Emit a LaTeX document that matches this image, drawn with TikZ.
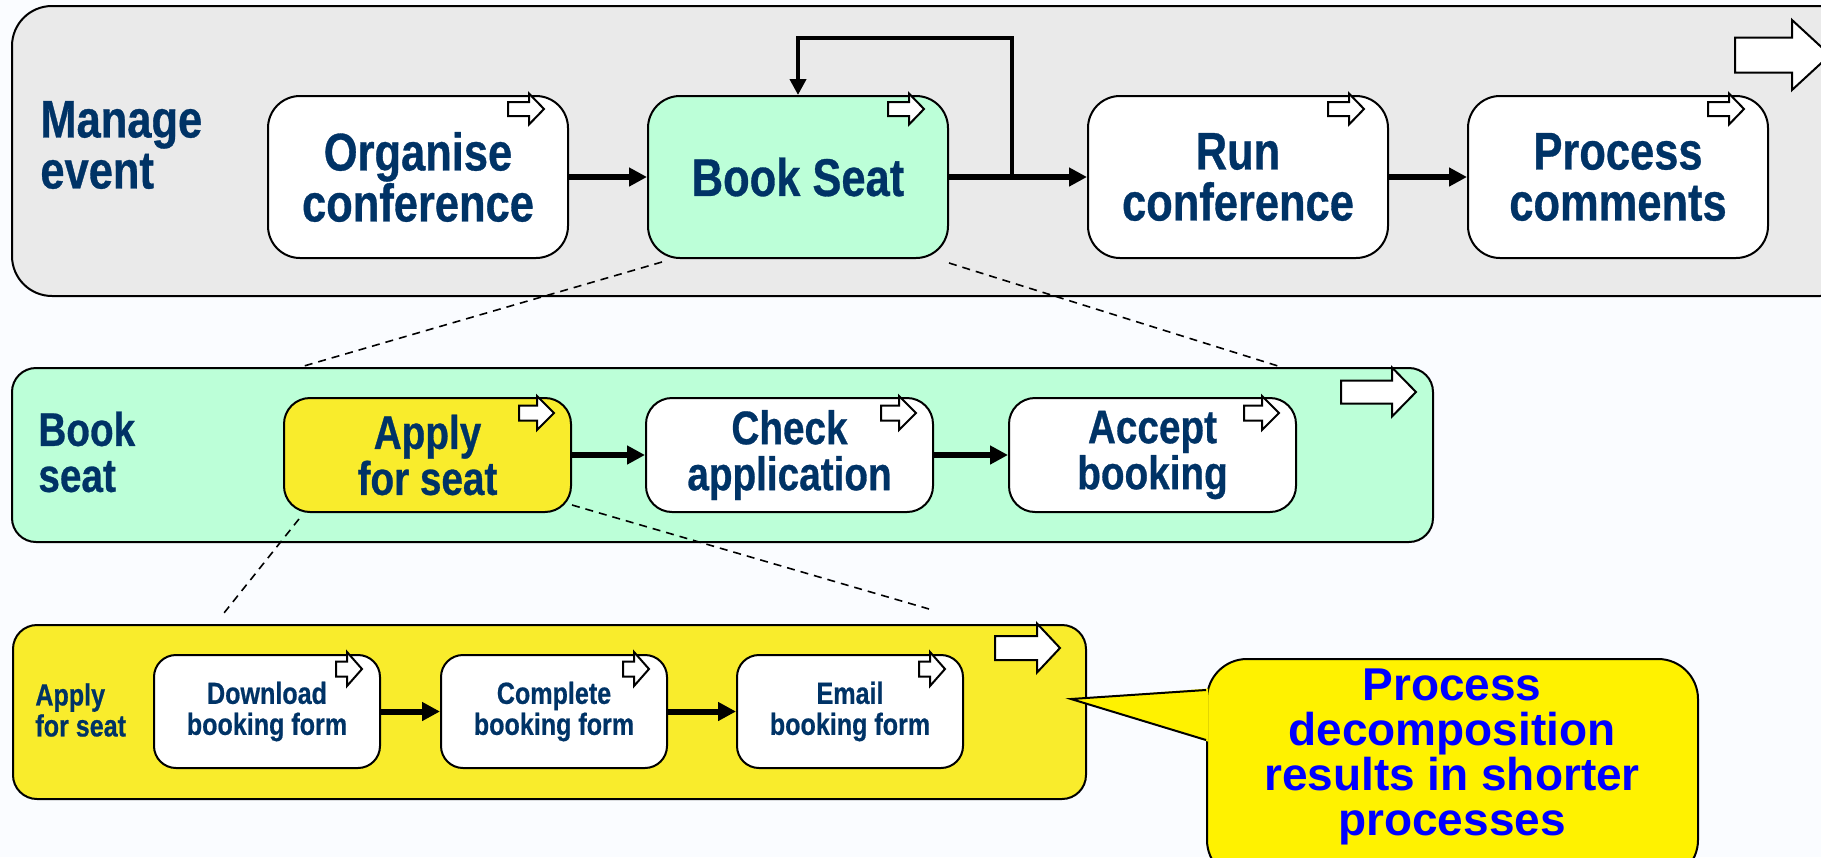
\documentclass[tikz,border=0pt]{standalone}
\usepackage{fontspec}
\setmainfont{Liberation Sans}[FakeStretch=0.82, BoldFeatures={FakeBold=0.6}]
\newfontfamily\calloutfont{Liberation Sans}
\usetikzlibrary{positioning}
\usetikzlibrary{arrows.meta}

\definecolor{textblue}{RGB}{0,51,102}
\definecolor{panelgrey}{RGB}{234,234,234}
\definecolor{seatgreen}{RGB}{188,255,216}
\definecolor{applyyellow}{RGB}{249,236,44}
\definecolor{pagebg}{RGB}{250,252,255}

\newcommand{\topfont}{\fontsize{26.5}{25.5}\selectfont\bfseries}
\newcommand{\midfont}{\fontsize{23.6}{23}\selectfont\bfseries}
\newcommand{\lowfont}{\fontsize{15.3}{15.5}\selectfont\bfseries}

% tip, length, head length, head half height, shaft half height
\newcommand{\blockarrow}[5]{%
  \filldraw[fill=white, draw=black, line width=1pt, line join=miter] (#1) ++(-#2,-#5) -- ++({#2-#3},0) -- ++(0,{#5-#4}) -- (#1) -- ++(-#3,#4) -- ++(0,{#5-#4}) -- ++({#3-#2},0) -- cycle;}

\tikzset{
  proc/.style={draw=black, line width=1pt, align=center, inner sep=0pt, text=textblue, fill=white},
  toptask/.style={proc, rounded corners=16pt, minimum width=150pt, minimum height=81pt, font=\topfont},
  midtask/.style={proc, rounded corners=13pt, minimum width=143.5pt, minimum height=57pt, font=\midfont},
  lowtask/.style={proc, rounded corners=11pt, minimum width=113pt, minimum height=56.5pt, font=\lowfont},
  lanelabel/.style={anchor=west, align=left, inner sep=0pt, text=textblue},
  panel/.style={draw=black, line width=1pt},
  flow/.style={line width=3pt, -{Triangle[length=9pt,width=9pt]}},
  loopflow/.style={line width=2pt, -{Triangle[length=8pt,width=8pt]}},
  zoomline/.style={dashed, line width=0.8pt, dash pattern=on 4pt off 3pt},
  callout/.style={draw=black, line width=1pt, fill=yellow, rounded corners=20pt, minimum width=245.5pt, minimum height=110.5pt},
  calltext/.style={align=center, inner sep=0pt, text=blue, font=\calloutfont\fontsize{23}{22.5}\selectfont\bfseries}
}

\begin{document}
\begin{tikzpicture}[x=0.5pt, y=-0.5pt]
  \useasboundingbox (0,0) rectangle (1821,857);
  \fill[pagebg] (0,0) rectangle (1821,857);

  % panels
  \draw[panel, fill=panelgrey, rounded corners=20pt] (12,6) rectangle (1860,296);
  \draw[panel, fill=seatgreen, rounded corners=12pt] (12,368) rectangle (1433,542);
  \draw[panel, fill=applyyellow, rounded corners=12pt] (13,625) rectangle (1086,799);

  % dashed zoom lines
  \coordinate (bookleft) at (304,366);
  \coordinate (bookright) at (1278,366);
  \coordinate (applyleft) at (224,613);
  \coordinate (applyright) at (929,609);

  % top level
  \node[lanelabel, font=\topfont] (manage) at (40,145) {Manage\\event};
  \node[toptask] (organise) at (418,177) {Organise\\conference};
  \node[toptask, fill=seatgreen, right=39pt of organise] (book) {Book Seat};
  \node[toptask, right=69pt of book] (run) {Run\\conference};
  \node[toptask, right=39pt of run] (comments) {Process\\comments};

  \draw[flow] (organise) -- (book);
  \draw[flow] (book) -- (run);
  \draw[flow] (run) -- (comments);
  \coordinate (split) at ([xshift=31.5pt]book.east);
  \draw[loopflow] (split) -- ++(0,-139) -| (book.north);

  % middle level
  \node[lanelabel, font=\midfont] (seatlabel) at (38,452) {Book\\seat};
  \node[midtask, fill=applyyellow] (apply) at (427.5,455) {Apply\\for seat};
  \node[midtask, right=36.5pt of apply] (check) {Check\\application};
  \node[midtask, right=37pt of check] (accept) {Accept\\booking};

  \draw[flow] (apply) -- (check);
  \draw[flow] (check) -- (accept);

  % bottom level
  \node[lanelabel, font=\lowfont] (applylabel) at (35,710) {Apply\\for seat};
  \node[lowtask] (download) at (267,711.5) {Download\\booking form};
  \node[lowtask, right=29.5pt of download] (complete) {Complete\\booking form};
  \node[lowtask, right=34pt of complete] (email) {Email\\booking form};

  \draw[flow] (download) -- (complete);
  \draw[flow] (complete) -- (email);

  \draw[zoomline] ([xshift=7.5pt,yshift=-1.5pt]book.south west) -- (bookleft);
  \draw[zoomline] ([yshift=-2pt]book.south east) -- (bookright);
  \draw[zoomline] ([xshift=8pt,yshift=-3pt]apply.south west) -- (applyleft);
  \draw[zoomline] ([yshift=4pt]apply.south east) -- (applyright);

  % process arrows
  \foreach \n in {organise,book,run,comments}
    \blockarrow{[shift={(-25,14)}]\n.north east}{36}{15}{15.5}{7};
  \foreach \n in {apply,check,accept}
    \blockarrow{[shift={(-18,16)}]\n.north east}{35}{17}{17}{7.5};
  \foreach \n in {download,complete,email}
    \blockarrow{[shift={(-19,15)}]\n.north east}{26}{15}{17}{7.5};
  \blockarrow{1830,55}{95}{38}{35}{17.5}
  \blockarrow{1416,392}{75}{24}{24.5}{11.5}
  \blockarrow{1060,648}{65}{23}{24.5}{12}

  % callout
  \node[callout] (note) at (1452.5,769.5) {};
  \coordinate (tailtip) at (1071,699);
  \fill[yellow] (tailtip) -- ([xshift=1pt,yshift=40.5pt]note.west) -- ([xshift=1pt,yshift=14pt]note.west) -- cycle;
  \draw[line width=1pt] ([yshift=39.75pt]note.west) -- (tailtip) -- ([yshift=14.75pt]note.west);
  \node[calltext, anchor=north] (notetext) at (1452,668) {Process\\decomposition\\results in shorter\\processes};
\end{tikzpicture}
\end{document}
